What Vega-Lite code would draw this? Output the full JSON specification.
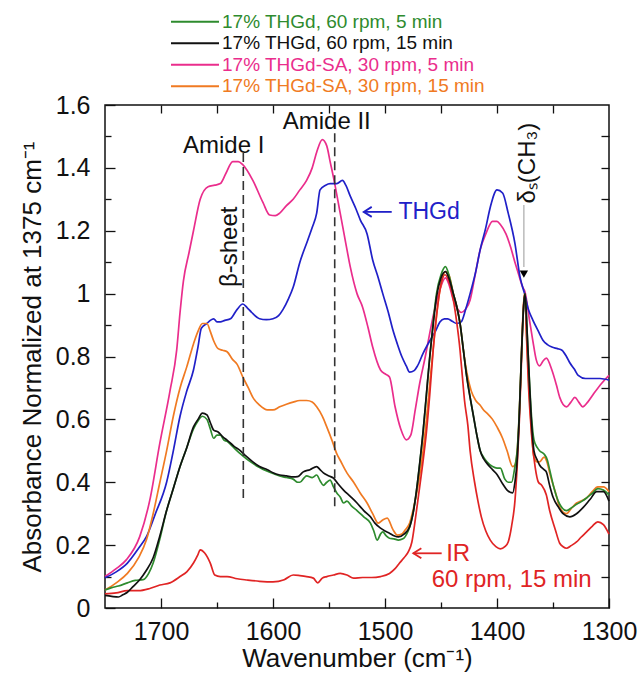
{
"$schema": "https://vega.github.io/schema/vega-lite/v6.json",
"width": 504, "height": 503,
"autosize": {"type": "none"},
"padding": {"left": 105, "top": 105, "right": 29, "bottom": 71},
"background": "white",
"config": {
  "view": {"stroke": "#111", "strokeWidth": 1.5},
  "font": "Liberation Sans",
  "axis": {"grid": false, "domain": false, "ticks": true, "labelFont": "Liberation Sans", "titleFont": "Liberation Sans", "labelColor": "#111", "titleColor": "#111", "tickColor": "#111", "tickWidth": 1.3, "labelFontSize": 25, "titleFontSize": 26, "titleFontWeight": "normal", "labelFlush": false, "labelOverlap": false},
  "text": {"font": "Liberation Sans"}
},
"datasets": {
"spectra": [
{"s":"17% THGd-SA, 30 rpm, 5 min","w":1750,"a":0.10},{"s":"17% THGd-SA, 30 rpm, 5 min","w":1740,"a":0.125},{"s":"17% THGd-SA, 30 rpm, 5 min","w":1731,"a":0.153},{"s":"17% THGd-SA, 30 rpm, 5 min","w":1719,"a":0.227},{"s":"17% THGd-SA, 30 rpm, 5 min","w":1710,"a":0.343},{"s":"17% THGd-SA, 30 rpm, 5 min","w":1701,"a":0.525},{"s":"17% THGd-SA, 30 rpm, 5 min","w":1692,"a":0.69},{"s":"17% THGd-SA, 30 rpm, 5 min","w":1686,"a":0.82},{"s":"17% THGd-SA, 30 rpm, 5 min","w":1683,"a":0.94},{"s":"17% THGd-SA, 30 rpm, 5 min","w":1680,"a":1.04},{"s":"17% THGd-SA, 30 rpm, 5 min","w":1675,"a":1.13},{"s":"17% THGd-SA, 30 rpm, 5 min","w":1671,"a":1.20},{"s":"17% THGd-SA, 30 rpm, 5 min","w":1665,"a":1.30},{"s":"17% THGd-SA, 30 rpm, 5 min","w":1658,"a":1.34},{"s":"17% THGd-SA, 30 rpm, 5 min","w":1652,"a":1.345},{"s":"17% THGd-SA, 30 rpm, 5 min","w":1647,"a":1.35},{"s":"17% THGd-SA, 30 rpm, 5 min","w":1642,"a":1.383},{"s":"17% THGd-SA, 30 rpm, 5 min","w":1636,"a":1.42},{"s":"17% THGd-SA, 30 rpm, 5 min","w":1631,"a":1.42},{"s":"17% THGd-SA, 30 rpm, 5 min","w":1627,"a":1.41},{"s":"17% THGd-SA, 30 rpm, 5 min","w":1618,"a":1.36},{"s":"17% THGd-SA, 30 rpm, 5 min","w":1609,"a":1.29},{"s":"17% THGd-SA, 30 rpm, 5 min","w":1603,"a":1.25},{"s":"17% THGd-SA, 30 rpm, 5 min","w":1598,"a":1.248},{"s":"17% THGd-SA, 30 rpm, 5 min","w":1594,"a":1.256},{"s":"17% THGd-SA, 30 rpm, 5 min","w":1588,"a":1.28},{"s":"17% THGd-SA, 30 rpm, 5 min","w":1582,"a":1.30},{"s":"17% THGd-SA, 30 rpm, 5 min","w":1576,"a":1.33},{"s":"17% THGd-SA, 30 rpm, 5 min","w":1570,"a":1.36},{"s":"17% THGd-SA, 30 rpm, 5 min","w":1565,"a":1.40},{"s":"17% THGd-SA, 30 rpm, 5 min","w":1561,"a":1.45},{"s":"17% THGd-SA, 30 rpm, 5 min","w":1556,"a":1.49},{"s":"17% THGd-SA, 30 rpm, 5 min","w":1552,"a":1.47},{"s":"17% THGd-SA, 30 rpm, 5 min","w":1549,"a":1.42},{"s":"17% THGd-SA, 30 rpm, 5 min","w":1546,"a":1.37},{"s":"17% THGd-SA, 30 rpm, 5 min","w":1540,"a":1.256},{"s":"17% THGd-SA, 30 rpm, 5 min","w":1535,"a":1.16},{"s":"17% THGd-SA, 30 rpm, 5 min","w":1531,"a":1.085},{"s":"17% THGd-SA, 30 rpm, 5 min","w":1525,"a":1.00},{"s":"17% THGd-SA, 30 rpm, 5 min","w":1520,"a":0.957},{"s":"17% THGd-SA, 30 rpm, 5 min","w":1515,"a":0.89},{"s":"17% THGd-SA, 30 rpm, 5 min","w":1511,"a":0.83},{"s":"17% THGd-SA, 30 rpm, 5 min","w":1504,"a":0.757},{"s":"17% THGd-SA, 30 rpm, 5 min","w":1500,"a":0.745},{"s":"17% THGd-SA, 30 rpm, 5 min","w":1496,"a":0.735},{"s":"17% THGd-SA, 30 rpm, 5 min","w":1491,"a":0.64},{"s":"17% THGd-SA, 30 rpm, 5 min","w":1486,"a":0.57},{"s":"17% THGd-SA, 30 rpm, 5 min","w":1481,"a":0.535},{"s":"17% THGd-SA, 30 rpm, 5 min","w":1477,"a":0.55},{"s":"17% THGd-SA, 30 rpm, 5 min","w":1473,"a":0.63},{"s":"17% THGd-SA, 30 rpm, 5 min","w":1469,"a":0.715},{"s":"17% THGd-SA, 30 rpm, 5 min","w":1464,"a":0.80},{"s":"17% THGd-SA, 30 rpm, 5 min","w":1460,"a":0.875},{"s":"17% THGd-SA, 30 rpm, 5 min","w":1456,"a":0.945},{"s":"17% THGd-SA, 30 rpm, 5 min","w":1452,"a":1.0},{"s":"17% THGd-SA, 30 rpm, 5 min","w":1446,"a":1.05},{"s":"17% THGd-SA, 30 rpm, 5 min","w":1443,"a":1.03},{"s":"17% THGd-SA, 30 rpm, 5 min","w":1439,"a":0.98},{"s":"17% THGd-SA, 30 rpm, 5 min","w":1435,"a":0.95},{"s":"17% THGd-SA, 30 rpm, 5 min","w":1432,"a":0.94},{"s":"17% THGd-SA, 30 rpm, 5 min","w":1428,"a":0.95},{"s":"17% THGd-SA, 30 rpm, 5 min","w":1424,"a":0.98},{"s":"17% THGd-SA, 30 rpm, 5 min","w":1420,"a":1.05},{"s":"17% THGd-SA, 30 rpm, 5 min","w":1415,"a":1.14},{"s":"17% THGd-SA, 30 rpm, 5 min","w":1410,"a":1.19},{"s":"17% THGd-SA, 30 rpm, 5 min","w":1404,"a":1.23},{"s":"17% THGd-SA, 30 rpm, 5 min","w":1400,"a":1.23},{"s":"17% THGd-SA, 30 rpm, 5 min","w":1397,"a":1.22},{"s":"17% THGd-SA, 30 rpm, 5 min","w":1392,"a":1.19},{"s":"17% THGd-SA, 30 rpm, 5 min","w":1388,"a":1.15},{"s":"17% THGd-SA, 30 rpm, 5 min","w":1384,"a":1.10},{"s":"17% THGd-SA, 30 rpm, 5 min","w":1381,"a":1.065},{"s":"17% THGd-SA, 30 rpm, 5 min","w":1377,"a":1.02},{"s":"17% THGd-SA, 30 rpm, 5 min","w":1375,"a":1.005},{"s":"17% THGd-SA, 30 rpm, 5 min","w":1371,"a":0.916},{"s":"17% THGd-SA, 30 rpm, 5 min","w":1368,"a":0.85},{"s":"17% THGd-SA, 30 rpm, 5 min","w":1365,"a":0.79},{"s":"17% THGd-SA, 30 rpm, 5 min","w":1362,"a":0.77},{"s":"17% THGd-SA, 30 rpm, 5 min","w":1359,"a":0.785},{"s":"17% THGd-SA, 30 rpm, 5 min","w":1356,"a":0.795},{"s":"17% THGd-SA, 30 rpm, 5 min","w":1351,"a":0.757},{"s":"17% THGd-SA, 30 rpm, 5 min","w":1347,"a":0.71},{"s":"17% THGd-SA, 30 rpm, 5 min","w":1344,"a":0.67},{"s":"17% THGd-SA, 30 rpm, 5 min","w":1338,"a":0.64},{"s":"17% THGd-SA, 30 rpm, 5 min","w":1334,"a":0.655},{"s":"17% THGd-SA, 30 rpm, 5 min","w":1330.5,"a":0.67},{"s":"17% THGd-SA, 30 rpm, 5 min","w":1327,"a":0.655},{"s":"17% THGd-SA, 30 rpm, 5 min","w":1323.5,"a":0.64},{"s":"17% THGd-SA, 30 rpm, 5 min","w":1319,"a":0.655},{"s":"17% THGd-SA, 30 rpm, 5 min","w":1314,"a":0.68},{"s":"17% THGd-SA, 30 rpm, 5 min","w":1306.5,"a":0.715},{"s":"17% THGd-SA, 30 rpm, 5 min","w":1300,"a":0.74},
{"s":"THGd","w":1750,"a":0.096},{"s":"THGd","w":1740,"a":0.115},{"s":"THGd","w":1730,"a":0.143},{"s":"THGd","w":1720,"a":0.19},{"s":"THGd","w":1713,"a":0.227},{"s":"THGd","w":1705,"a":0.30},{"s":"THGd","w":1695,"a":0.40},{"s":"THGd","w":1689,"a":0.50},{"s":"THGd","w":1683,"a":0.61},{"s":"THGd","w":1677,"a":0.69},{"s":"THGd","w":1671,"a":0.757},{"s":"THGd","w":1667,"a":0.83},{"s":"THGd","w":1664,"a":0.89},{"s":"THGd","w":1659,"a":0.905},{"s":"THGd","w":1656,"a":0.915},{"s":"THGd","w":1653,"a":0.92},{"s":"THGd","w":1650,"a":0.91},{"s":"THGd","w":1647,"a":0.91},{"s":"THGd","w":1643,"a":0.915},{"s":"THGd","w":1638,"a":0.92},{"s":"THGd","w":1632,"a":0.95},{"s":"THGd","w":1627,"a":0.967},{"s":"THGd","w":1623,"a":0.955},{"s":"THGd","w":1619,"a":0.94},{"s":"THGd","w":1612,"a":0.92},{"s":"THGd","w":1606,"a":0.917},{"s":"THGd","w":1600,"a":0.92},{"s":"THGd","w":1595,"a":0.93},{"s":"THGd","w":1591,"a":0.95},{"s":"THGd","w":1586,"a":0.985},{"s":"THGd","w":1582,"a":1.02},{"s":"THGd","w":1576,"a":1.10},{"s":"THGd","w":1569,"a":1.17},{"s":"THGd","w":1565,"a":1.21},{"s":"THGd","w":1561,"a":1.256},{"s":"THGd","w":1558,"a":1.33},{"s":"THGd","w":1553,"a":1.345},{"s":"THGd","w":1549,"a":1.35},{"s":"THGd","w":1543,"a":1.35},{"s":"THGd","w":1538,"a":1.36},{"s":"THGd","w":1535,"a":1.345},{"s":"THGd","w":1531,"a":1.31},{"s":"THGd","w":1526,"a":1.27},{"s":"THGd","w":1522,"a":1.234},{"s":"THGd","w":1516,"a":1.19},{"s":"THGd","w":1511,"a":1.107},{"s":"THGd","w":1506,"a":1.05},{"s":"THGd","w":1502,"a":1.00},{"s":"THGd","w":1497,"a":0.94},{"s":"THGd","w":1493,"a":0.885},{"s":"THGd","w":1489,"a":0.84},{"s":"THGd","w":1485,"a":0.80},{"s":"THGd","w":1481,"a":0.77},{"s":"THGd","w":1478,"a":0.75},{"s":"THGd","w":1474,"a":0.755},{"s":"THGd","w":1471,"a":0.77},{"s":"THGd","w":1466,"a":0.81},{"s":"THGd","w":1460,"a":0.85},{"s":"THGd","w":1455,"a":0.88},{"s":"THGd","w":1451,"a":0.91},{"s":"THGd","w":1447,"a":0.92},{"s":"THGd","w":1444,"a":0.92},{"s":"THGd","w":1440,"a":0.912},{"s":"THGd","w":1436,"a":0.905},{"s":"THGd","w":1432,"a":0.91},{"s":"THGd","w":1428,"a":0.95},{"s":"THGd","w":1424,"a":1.0},{"s":"THGd","w":1419,"a":1.07},{"s":"THGd","w":1415,"a":1.14},{"s":"THGd","w":1410,"a":1.21},{"s":"THGd","w":1406,"a":1.275},{"s":"THGd","w":1400,"a":1.33},{"s":"THGd","w":1395,"a":1.32},{"s":"THGd","w":1390,"a":1.256},{"s":"THGd","w":1384,"a":1.16},{"s":"THGd","w":1379.5,"a":1.054},{"s":"THGd","w":1375,"a":0.995},{"s":"THGd","w":1372,"a":0.95},{"s":"THGd","w":1368,"a":0.916},{"s":"THGd","w":1363,"a":0.88},{"s":"THGd","w":1359,"a":0.852},{"s":"THGd","w":1355,"a":0.838},{"s":"THGd","w":1351,"a":0.83},{"s":"THGd","w":1346,"a":0.825},{"s":"THGd","w":1342,"a":0.82},{"s":"THGd","w":1338,"a":0.80},{"s":"THGd","w":1335,"a":0.78},{"s":"THGd","w":1331,"a":0.76},{"s":"THGd","w":1327.5,"a":0.74},{"s":"THGd","w":1321,"a":0.73},{"s":"THGd","w":1314,"a":0.73},{"s":"THGd","w":1308,"a":0.73},{"s":"THGd","w":1300,"a":0.725},
{"s":"17% THGd-SA, 30 rpm, 15 min","w":1750,"a":0.057},{"s":"17% THGd-SA, 30 rpm, 15 min","w":1740,"a":0.08},{"s":"17% THGd-SA, 30 rpm, 15 min","w":1730,"a":0.11},{"s":"17% THGd-SA, 30 rpm, 15 min","w":1720,"a":0.16},{"s":"17% THGd-SA, 30 rpm, 15 min","w":1713,"a":0.217},{"s":"17% THGd-SA, 30 rpm, 15 min","w":1707,"a":0.30},{"s":"17% THGd-SA, 30 rpm, 15 min","w":1701,"a":0.40},{"s":"17% THGd-SA, 30 rpm, 15 min","w":1695,"a":0.50},{"s":"17% THGd-SA, 30 rpm, 15 min","w":1689,"a":0.61},{"s":"17% THGd-SA, 30 rpm, 15 min","w":1683,"a":0.70},{"s":"17% THGd-SA, 30 rpm, 15 min","w":1677,"a":0.767},{"s":"17% THGd-SA, 30 rpm, 15 min","w":1671,"a":0.84},{"s":"17% THGd-SA, 30 rpm, 15 min","w":1667,"a":0.88},{"s":"17% THGd-SA, 30 rpm, 15 min","w":1663,"a":0.905},{"s":"17% THGd-SA, 30 rpm, 15 min","w":1659,"a":0.905},{"s":"17% THGd-SA, 30 rpm, 15 min","w":1656,"a":0.88},{"s":"17% THGd-SA, 30 rpm, 15 min","w":1653,"a":0.85},{"s":"17% THGd-SA, 30 rpm, 15 min","w":1649,"a":0.825},{"s":"17% THGd-SA, 30 rpm, 15 min","w":1645,"a":0.82},{"s":"17% THGd-SA, 30 rpm, 15 min","w":1641,"a":0.815},{"s":"17% THGd-SA, 30 rpm, 15 min","w":1636,"a":0.79},{"s":"17% THGd-SA, 30 rpm, 15 min","w":1632,"a":0.775},{"s":"17% THGd-SA, 30 rpm, 15 min","w":1627,"a":0.735},{"s":"17% THGd-SA, 30 rpm, 15 min","w":1622,"a":0.70},{"s":"17% THGd-SA, 30 rpm, 15 min","w":1618,"a":0.67},{"s":"17% THGd-SA, 30 rpm, 15 min","w":1612,"a":0.645},{"s":"17% THGd-SA, 30 rpm, 15 min","w":1605,"a":0.63},{"s":"17% THGd-SA, 30 rpm, 15 min","w":1600,"a":0.63},{"s":"17% THGd-SA, 30 rpm, 15 min","w":1594,"a":0.64},{"s":"17% THGd-SA, 30 rpm, 15 min","w":1588,"a":0.648},{"s":"17% THGd-SA, 30 rpm, 15 min","w":1582,"a":0.655},{"s":"17% THGd-SA, 30 rpm, 15 min","w":1576,"a":0.66},{"s":"17% THGd-SA, 30 rpm, 15 min","w":1570,"a":0.66},{"s":"17% THGd-SA, 30 rpm, 15 min","w":1565,"a":0.655},{"s":"17% THGd-SA, 30 rpm, 15 min","w":1561,"a":0.64},{"s":"17% THGd-SA, 30 rpm, 15 min","w":1556,"a":0.61},{"s":"17% THGd-SA, 30 rpm, 15 min","w":1552,"a":0.576},{"s":"17% THGd-SA, 30 rpm, 15 min","w":1547,"a":0.53},{"s":"17% THGd-SA, 30 rpm, 15 min","w":1543,"a":0.49},{"s":"17% THGd-SA, 30 rpm, 15 min","w":1540,"a":0.47},{"s":"17% THGd-SA, 30 rpm, 15 min","w":1534,"a":0.43},{"s":"17% THGd-SA, 30 rpm, 15 min","w":1528,"a":0.40},{"s":"17% THGd-SA, 30 rpm, 15 min","w":1522,"a":0.365},{"s":"17% THGd-SA, 30 rpm, 15 min","w":1516,"a":0.334},{"s":"17% THGd-SA, 30 rpm, 15 min","w":1511,"a":0.30},{"s":"17% THGd-SA, 30 rpm, 15 min","w":1506,"a":0.27},{"s":"17% THGd-SA, 30 rpm, 15 min","w":1502,"a":0.28},{"s":"17% THGd-SA, 30 rpm, 15 min","w":1498,"a":0.286},{"s":"17% THGd-SA, 30 rpm, 15 min","w":1493,"a":0.25},{"s":"17% THGd-SA, 30 rpm, 15 min","w":1489,"a":0.232},{"s":"17% THGd-SA, 30 rpm, 15 min","w":1485,"a":0.235},{"s":"17% THGd-SA, 30 rpm, 15 min","w":1482,"a":0.248},{"s":"17% THGd-SA, 30 rpm, 15 min","w":1478,"a":0.27},{"s":"17% THGd-SA, 30 rpm, 15 min","w":1475,"a":0.31},{"s":"17% THGd-SA, 30 rpm, 15 min","w":1470,"a":0.40},{"s":"17% THGd-SA, 30 rpm, 15 min","w":1466,"a":0.50},{"s":"17% THGd-SA, 30 rpm, 15 min","w":1463,"a":0.60},{"s":"17% THGd-SA, 30 rpm, 15 min","w":1460,"a":0.715},{"s":"17% THGd-SA, 30 rpm, 15 min","w":1456,"a":0.86},{"s":"17% THGd-SA, 30 rpm, 15 min","w":1453,"a":0.96},{"s":"17% THGd-SA, 30 rpm, 15 min","w":1450,"a":1.03},{"s":"17% THGd-SA, 30 rpm, 15 min","w":1446,"a":1.07},{"s":"17% THGd-SA, 30 rpm, 15 min","w":1443,"a":1.06},{"s":"17% THGd-SA, 30 rpm, 15 min","w":1439,"a":1.0},{"s":"17% THGd-SA, 30 rpm, 15 min","w":1436,"a":0.96},{"s":"17% THGd-SA, 30 rpm, 15 min","w":1433,"a":0.905},{"s":"17% THGd-SA, 30 rpm, 15 min","w":1430,"a":0.82},{"s":"17% THGd-SA, 30 rpm, 15 min","w":1427,"a":0.75},{"s":"17% THGd-SA, 30 rpm, 15 min","w":1423,"a":0.69},{"s":"17% THGd-SA, 30 rpm, 15 min","w":1419,"a":0.66},{"s":"17% THGd-SA, 30 rpm, 15 min","w":1415,"a":0.645},{"s":"17% THGd-SA, 30 rpm, 15 min","w":1412,"a":0.63},{"s":"17% THGd-SA, 30 rpm, 15 min","w":1409,"a":0.62},{"s":"17% THGd-SA, 30 rpm, 15 min","w":1404,"a":0.60},{"s":"17% THGd-SA, 30 rpm, 15 min","w":1400,"a":0.576},{"s":"17% THGd-SA, 30 rpm, 15 min","w":1395,"a":0.54},{"s":"17% THGd-SA, 30 rpm, 15 min","w":1391,"a":0.50},{"s":"17% THGd-SA, 30 rpm, 15 min","w":1386,"a":0.45},{"s":"17% THGd-SA, 30 rpm, 15 min","w":1384,"a":0.455},{"s":"17% THGd-SA, 30 rpm, 15 min","w":1381,"a":0.55},{"s":"17% THGd-SA, 30 rpm, 15 min","w":1379,"a":0.72},{"s":"17% THGd-SA, 30 rpm, 15 min","w":1377,"a":0.92},{"s":"17% THGd-SA, 30 rpm, 15 min","w":1375.5,"a":1.0},{"s":"17% THGd-SA, 30 rpm, 15 min","w":1373,"a":0.82},{"s":"17% THGd-SA, 30 rpm, 15 min","w":1370,"a":0.61},{"s":"17% THGd-SA, 30 rpm, 15 min","w":1367,"a":0.48},{"s":"17% THGd-SA, 30 rpm, 15 min","w":1364,"a":0.465},{"s":"17% THGd-SA, 30 rpm, 15 min","w":1362,"a":0.465},{"s":"17% THGd-SA, 30 rpm, 15 min","w":1358,"a":0.48},{"s":"17% THGd-SA, 30 rpm, 15 min","w":1355,"a":0.46},{"s":"17% THGd-SA, 30 rpm, 15 min","w":1353,"a":0.43},{"s":"17% THGd-SA, 30 rpm, 15 min","w":1348,"a":0.37},{"s":"17% THGd-SA, 30 rpm, 15 min","w":1344,"a":0.32},{"s":"17% THGd-SA, 30 rpm, 15 min","w":1338,"a":0.30},{"s":"17% THGd-SA, 30 rpm, 15 min","w":1334,"a":0.315},{"s":"17% THGd-SA, 30 rpm, 15 min","w":1329,"a":0.334},{"s":"17% THGd-SA, 30 rpm, 15 min","w":1325,"a":0.34},{"s":"17% THGd-SA, 30 rpm, 15 min","w":1320,"a":0.35},{"s":"17% THGd-SA, 30 rpm, 15 min","w":1315,"a":0.37},{"s":"17% THGd-SA, 30 rpm, 15 min","w":1310,"a":0.385},{"s":"17% THGd-SA, 30 rpm, 15 min","w":1305,"a":0.385},{"s":"17% THGd-SA, 30 rpm, 15 min","w":1300,"a":0.37},
{"s":"IR, 60 rpm, 15 min","w":1750,"a":0.045},{"s":"IR, 60 rpm, 15 min","w":1740,"a":0.048},{"s":"IR, 60 rpm, 15 min","w":1730,"a":0.055},{"s":"IR, 60 rpm, 15 min","w":1720,"a":0.055},{"s":"IR, 60 rpm, 15 min","w":1710,"a":0.062},{"s":"IR, 60 rpm, 15 min","w":1701,"a":0.073},{"s":"IR, 60 rpm, 15 min","w":1692,"a":0.08},{"s":"IR, 60 rpm, 15 min","w":1683,"a":0.10},{"s":"IR, 60 rpm, 15 min","w":1677,"a":0.115},{"s":"IR, 60 rpm, 15 min","w":1671,"a":0.143},{"s":"IR, 60 rpm, 15 min","w":1667,"a":0.17},{"s":"IR, 60 rpm, 15 min","w":1665,"a":0.185},{"s":"IR, 60 rpm, 15 min","w":1661,"a":0.175},{"s":"IR, 60 rpm, 15 min","w":1656,"a":0.143},{"s":"IR, 60 rpm, 15 min","w":1652,"a":0.105},{"s":"IR, 60 rpm, 15 min","w":1647,"a":0.10},{"s":"IR, 60 rpm, 15 min","w":1641,"a":0.10},{"s":"IR, 60 rpm, 15 min","w":1632,"a":0.093},{"s":"IR, 60 rpm, 15 min","w":1623,"a":0.089},{"s":"IR, 60 rpm, 15 min","w":1612,"a":0.085},{"s":"IR, 60 rpm, 15 min","w":1600,"a":0.083},{"s":"IR, 60 rpm, 15 min","w":1590,"a":0.09},{"s":"IR, 60 rpm, 15 min","w":1582,"a":0.105},{"s":"IR, 60 rpm, 15 min","w":1576,"a":0.103},{"s":"IR, 60 rpm, 15 min","w":1570,"a":0.10},{"s":"IR, 60 rpm, 15 min","w":1564,"a":0.095},{"s":"IR, 60 rpm, 15 min","w":1560,"a":0.08},{"s":"IR, 60 rpm, 15 min","w":1556,"a":0.095},{"s":"IR, 60 rpm, 15 min","w":1552,"a":0.10},{"s":"IR, 60 rpm, 15 min","w":1546,"a":0.105},{"s":"IR, 60 rpm, 15 min","w":1540,"a":0.11},{"s":"IR, 60 rpm, 15 min","w":1534,"a":0.105},{"s":"IR, 60 rpm, 15 min","w":1528,"a":0.095},{"s":"IR, 60 rpm, 15 min","w":1520,"a":0.097},{"s":"IR, 60 rpm, 15 min","w":1512,"a":0.097},{"s":"IR, 60 rpm, 15 min","w":1504,"a":0.10},{"s":"IR, 60 rpm, 15 min","w":1496,"a":0.11},{"s":"IR, 60 rpm, 15 min","w":1491,"a":0.125},{"s":"IR, 60 rpm, 15 min","w":1487,"a":0.143},{"s":"IR, 60 rpm, 15 min","w":1483,"a":0.16},{"s":"IR, 60 rpm, 15 min","w":1479,"a":0.18},{"s":"IR, 60 rpm, 15 min","w":1476,"a":0.21},{"s":"IR, 60 rpm, 15 min","w":1473,"a":0.28},{"s":"IR, 60 rpm, 15 min","w":1470,"a":0.36},{"s":"IR, 60 rpm, 15 min","w":1467,"a":0.44},{"s":"IR, 60 rpm, 15 min","w":1463,"a":0.56},{"s":"IR, 60 rpm, 15 min","w":1460,"a":0.68},{"s":"IR, 60 rpm, 15 min","w":1457,"a":0.82},{"s":"IR, 60 rpm, 15 min","w":1454,"a":0.93},{"s":"IR, 60 rpm, 15 min","w":1450,"a":1.03},{"s":"IR, 60 rpm, 15 min","w":1446.5,"a":1.06},{"s":"IR, 60 rpm, 15 min","w":1443,"a":1.04},{"s":"IR, 60 rpm, 15 min","w":1439,"a":0.98},{"s":"IR, 60 rpm, 15 min","w":1436,"a":0.91},{"s":"IR, 60 rpm, 15 min","w":1433,"a":0.82},{"s":"IR, 60 rpm, 15 min","w":1431,"a":0.74},{"s":"IR, 60 rpm, 15 min","w":1429,"a":0.66},{"s":"IR, 60 rpm, 15 min","w":1426,"a":0.58},{"s":"IR, 60 rpm, 15 min","w":1424,"a":0.50},{"s":"IR, 60 rpm, 15 min","w":1420,"a":0.40},{"s":"IR, 60 rpm, 15 min","w":1417,"a":0.34},{"s":"IR, 60 rpm, 15 min","w":1414,"a":0.29},{"s":"IR, 60 rpm, 15 min","w":1410,"a":0.245},{"s":"IR, 60 rpm, 15 min","w":1406,"a":0.216},{"s":"IR, 60 rpm, 15 min","w":1401,"a":0.195},{"s":"IR, 60 rpm, 15 min","w":1397,"a":0.188},{"s":"IR, 60 rpm, 15 min","w":1393,"a":0.195},{"s":"IR, 60 rpm, 15 min","w":1390,"a":0.21},{"s":"IR, 60 rpm, 15 min","w":1387,"a":0.26},{"s":"IR, 60 rpm, 15 min","w":1384,"a":0.34},{"s":"IR, 60 rpm, 15 min","w":1382,"a":0.45},{"s":"IR, 60 rpm, 15 min","w":1380,"a":0.60},{"s":"IR, 60 rpm, 15 min","w":1378,"a":0.80},{"s":"IR, 60 rpm, 15 min","w":1376.5,"a":0.95},{"s":"IR, 60 rpm, 15 min","w":1375,"a":1.0},{"s":"IR, 60 rpm, 15 min","w":1373.5,"a":0.85},{"s":"IR, 60 rpm, 15 min","w":1372,"a":0.715},{"s":"IR, 60 rpm, 15 min","w":1370.5,"a":0.62},{"s":"IR, 60 rpm, 15 min","w":1369,"a":0.545},{"s":"IR, 60 rpm, 15 min","w":1366,"a":0.45},{"s":"IR, 60 rpm, 15 min","w":1363,"a":0.40},{"s":"IR, 60 rpm, 15 min","w":1360,"a":0.39},{"s":"IR, 60 rpm, 15 min","w":1356,"a":0.36},{"s":"IR, 60 rpm, 15 min","w":1353,"a":0.31},{"s":"IR, 60 rpm, 15 min","w":1348,"a":0.25},{"s":"IR, 60 rpm, 15 min","w":1344,"a":0.206},{"s":"IR, 60 rpm, 15 min","w":1341,"a":0.195},{"s":"IR, 60 rpm, 15 min","w":1338,"a":0.19},{"s":"IR, 60 rpm, 15 min","w":1334,"a":0.198},{"s":"IR, 60 rpm, 15 min","w":1329,"a":0.21},{"s":"IR, 60 rpm, 15 min","w":1325,"a":0.225},{"s":"IR, 60 rpm, 15 min","w":1320,"a":0.242},{"s":"IR, 60 rpm, 15 min","w":1315,"a":0.26},{"s":"IR, 60 rpm, 15 min","w":1310,"a":0.274},{"s":"IR, 60 rpm, 15 min","w":1305,"a":0.265},{"s":"IR, 60 rpm, 15 min","w":1300,"a":0.235},
{"s":"17% THGd, 60 rpm, 5 min","w":1750,"a":0.057},{"s":"17% THGd, 60 rpm, 5 min","w":1744,"a":0.065},{"s":"17% THGd, 60 rpm, 5 min","w":1738,"a":0.07},{"s":"17% THGd, 60 rpm, 5 min","w":1730,"a":0.08},{"s":"17% THGd, 60 rpm, 5 min","w":1723,"a":0.088},{"s":"17% THGd, 60 rpm, 5 min","w":1716,"a":0.09},{"s":"17% THGd, 60 rpm, 5 min","w":1711,"a":0.11},{"s":"17% THGd, 60 rpm, 5 min","w":1707,"a":0.143},{"s":"17% THGd, 60 rpm, 5 min","w":1701,"a":0.22},{"s":"17% THGd, 60 rpm, 5 min","w":1695,"a":0.31},{"s":"17% THGd, 60 rpm, 5 min","w":1689,"a":0.38},{"s":"17% THGd, 60 rpm, 5 min","w":1683,"a":0.45},{"s":"17% THGd, 60 rpm, 5 min","w":1677,"a":0.51},{"s":"17% THGd, 60 rpm, 5 min","w":1671,"a":0.57},{"s":"17% THGd, 60 rpm, 5 min","w":1667,"a":0.595},{"s":"17% THGd, 60 rpm, 5 min","w":1663,"a":0.61},{"s":"17% THGd, 60 rpm, 5 min","w":1659,"a":0.60},{"s":"17% THGd, 60 rpm, 5 min","w":1656,"a":0.57},{"s":"17% THGd, 60 rpm, 5 min","w":1653,"a":0.54},{"s":"17% THGd, 60 rpm, 5 min","w":1650,"a":0.55},{"s":"17% THGd, 60 rpm, 5 min","w":1647,"a":0.55},{"s":"17% THGd, 60 rpm, 5 min","w":1644,"a":0.535},{"s":"17% THGd, 60 rpm, 5 min","w":1641,"a":0.53},{"s":"17% THGd, 60 rpm, 5 min","w":1635,"a":0.51},{"s":"17% THGd, 60 rpm, 5 min","w":1629,"a":0.49},{"s":"17% THGd, 60 rpm, 5 min","w":1624,"a":0.475},{"s":"17% THGd, 60 rpm, 5 min","w":1618,"a":0.46},{"s":"17% THGd, 60 rpm, 5 min","w":1612,"a":0.447},{"s":"17% THGd, 60 rpm, 5 min","w":1605,"a":0.435},{"s":"17% THGd, 60 rpm, 5 min","w":1600,"a":0.428},{"s":"17% THGd, 60 rpm, 5 min","w":1594,"a":0.42},{"s":"17% THGd, 60 rpm, 5 min","w":1588,"a":0.415},{"s":"17% THGd, 60 rpm, 5 min","w":1582,"a":0.41},{"s":"17% THGd, 60 rpm, 5 min","w":1578,"a":0.40},{"s":"17% THGd, 60 rpm, 5 min","w":1576,"a":0.40},{"s":"17% THGd, 60 rpm, 5 min","w":1572,"a":0.415},{"s":"17% THGd, 60 rpm, 5 min","w":1570,"a":0.42},{"s":"17% THGd, 60 rpm, 5 min","w":1565,"a":0.415},{"s":"17% THGd, 60 rpm, 5 min","w":1561,"a":0.423},{"s":"17% THGd, 60 rpm, 5 min","w":1558,"a":0.405},{"s":"17% THGd, 60 rpm, 5 min","w":1555,"a":0.39},{"s":"17% THGd, 60 rpm, 5 min","w":1552,"a":0.40},{"s":"17% THGd, 60 rpm, 5 min","w":1549,"a":0.407},{"s":"17% THGd, 60 rpm, 5 min","w":1546,"a":0.385},{"s":"17% THGd, 60 rpm, 5 min","w":1543,"a":0.366},{"s":"17% THGd, 60 rpm, 5 min","w":1540,"a":0.353},{"s":"17% THGd, 60 rpm, 5 min","w":1537,"a":0.334},{"s":"17% THGd, 60 rpm, 5 min","w":1534,"a":0.34},{"s":"17% THGd, 60 rpm, 5 min","w":1530,"a":0.325},{"s":"17% THGd, 60 rpm, 5 min","w":1525,"a":0.31},{"s":"17% THGd, 60 rpm, 5 min","w":1519,"a":0.29},{"s":"17% THGd, 60 rpm, 5 min","w":1513,"a":0.27},{"s":"17% THGd, 60 rpm, 5 min","w":1510,"a":0.245},{"s":"17% THGd, 60 rpm, 5 min","w":1507,"a":0.216},{"s":"17% THGd, 60 rpm, 5 min","w":1504,"a":0.235},{"s":"17% THGd, 60 rpm, 5 min","w":1502,"a":0.242},{"s":"17% THGd, 60 rpm, 5 min","w":1499,"a":0.23},{"s":"17% THGd, 60 rpm, 5 min","w":1496,"a":0.222},{"s":"17% THGd, 60 rpm, 5 min","w":1492,"a":0.22},{"s":"17% THGd, 60 rpm, 5 min","w":1488,"a":0.216},{"s":"17% THGd, 60 rpm, 5 min","w":1484,"a":0.22},{"s":"17% THGd, 60 rpm, 5 min","w":1480,"a":0.24},{"s":"17% THGd, 60 rpm, 5 min","w":1478,"a":0.258},{"s":"17% THGd, 60 rpm, 5 min","w":1475,"a":0.30},{"s":"17% THGd, 60 rpm, 5 min","w":1472,"a":0.37},{"s":"17% THGd, 60 rpm, 5 min","w":1469,"a":0.46},{"s":"17% THGd, 60 rpm, 5 min","w":1466,"a":0.56},{"s":"17% THGd, 60 rpm, 5 min","w":1463,"a":0.68},{"s":"17% THGd, 60 rpm, 5 min","w":1460,"a":0.80},{"s":"17% THGd, 60 rpm, 5 min","w":1457,"a":0.91},{"s":"17% THGd, 60 rpm, 5 min","w":1454,"a":1.0},{"s":"17% THGd, 60 rpm, 5 min","w":1450,"a":1.06},{"s":"17% THGd, 60 rpm, 5 min","w":1446,"a":1.086},{"s":"17% THGd, 60 rpm, 5 min","w":1443,"a":1.06},{"s":"17% THGd, 60 rpm, 5 min","w":1439,"a":1.0},{"s":"17% THGd, 60 rpm, 5 min","w":1436,"a":0.96},{"s":"17% THGd, 60 rpm, 5 min","w":1433,"a":0.905},{"s":"17% THGd, 60 rpm, 5 min","w":1430,"a":0.82},{"s":"17% THGd, 60 rpm, 5 min","w":1427,"a":0.735},{"s":"17% THGd, 60 rpm, 5 min","w":1424,"a":0.67},{"s":"17% THGd, 60 rpm, 5 min","w":1421,"a":0.61},{"s":"17% THGd, 60 rpm, 5 min","w":1418,"a":0.55},{"s":"17% THGd, 60 rpm, 5 min","w":1415,"a":0.50},{"s":"17% THGd, 60 rpm, 5 min","w":1412,"a":0.48},{"s":"17% THGd, 60 rpm, 5 min","w":1409,"a":0.465},{"s":"17% THGd, 60 rpm, 5 min","w":1404,"a":0.45},{"s":"17% THGd, 60 rpm, 5 min","w":1400,"a":0.445},{"s":"17% THGd, 60 rpm, 5 min","w":1397,"a":0.445},{"s":"17% THGd, 60 rpm, 5 min","w":1393,"a":0.41},{"s":"17% THGd, 60 rpm, 5 min","w":1390,"a":0.40},{"s":"17% THGd, 60 rpm, 5 min","w":1387,"a":0.40},{"s":"17% THGd, 60 rpm, 5 min","w":1384,"a":0.45},{"s":"17% THGd, 60 rpm, 5 min","w":1382,"a":0.50},{"s":"17% THGd, 60 rpm, 5 min","w":1380,"a":0.63},{"s":"17% THGd, 60 rpm, 5 min","w":1378,"a":0.82},{"s":"17% THGd, 60 rpm, 5 min","w":1376,"a":0.97},{"s":"17% THGd, 60 rpm, 5 min","w":1375,"a":1.0},{"s":"17% THGd, 60 rpm, 5 min","w":1373,"a":0.87},{"s":"17% THGd, 60 rpm, 5 min","w":1371,"a":0.72},{"s":"17% THGd, 60 rpm, 5 min","w":1369,"a":0.60},{"s":"17% THGd, 60 rpm, 5 min","w":1367,"a":0.535},{"s":"17% THGd, 60 rpm, 5 min","w":1364,"a":0.51},{"s":"17% THGd, 60 rpm, 5 min","w":1362,"a":0.50},{"s":"17% THGd, 60 rpm, 5 min","w":1358,"a":0.49},{"s":"17% THGd, 60 rpm, 5 min","w":1355,"a":0.47},{"s":"17% THGd, 60 rpm, 5 min","w":1353,"a":0.44},{"s":"17% THGd, 60 rpm, 5 min","w":1349,"a":0.38},{"s":"17% THGd, 60 rpm, 5 min","w":1344,"a":0.33},{"s":"17% THGd, 60 rpm, 5 min","w":1338,"a":0.31},{"s":"17% THGd, 60 rpm, 5 min","w":1333,"a":0.32},{"s":"17% THGd, 60 rpm, 5 min","w":1329,"a":0.33},{"s":"17% THGd, 60 rpm, 5 min","w":1324,"a":0.34},{"s":"17% THGd, 60 rpm, 5 min","w":1320,"a":0.35},{"s":"17% THGd, 60 rpm, 5 min","w":1315,"a":0.365},{"s":"17% THGd, 60 rpm, 5 min","w":1310,"a":0.38},{"s":"17% THGd, 60 rpm, 5 min","w":1305,"a":0.375},{"s":"17% THGd, 60 rpm, 5 min","w":1300,"a":0.36},
{"s":"17% THGd, 60 rpm, 15 min","w":1750,"a":0.04},{"s":"17% THGd, 60 rpm, 15 min","w":1744,"a":0.037},{"s":"17% THGd, 60 rpm, 15 min","w":1738,"a":0.035},{"s":"17% THGd, 60 rpm, 15 min","w":1734,"a":0.042},{"s":"17% THGd, 60 rpm, 15 min","w":1730,"a":0.05},{"s":"17% THGd, 60 rpm, 15 min","w":1725,"a":0.068},{"s":"17% THGd, 60 rpm, 15 min","w":1719,"a":0.09},{"s":"17% THGd, 60 rpm, 15 min","w":1713,"a":0.12},{"s":"17% THGd, 60 rpm, 15 min","w":1707,"a":0.16},{"s":"17% THGd, 60 rpm, 15 min","w":1701,"a":0.23},{"s":"17% THGd, 60 rpm, 15 min","w":1695,"a":0.31},{"s":"17% THGd, 60 rpm, 15 min","w":1689,"a":0.38},{"s":"17% THGd, 60 rpm, 15 min","w":1683,"a":0.45},{"s":"17% THGd, 60 rpm, 15 min","w":1677,"a":0.51},{"s":"17% THGd, 60 rpm, 15 min","w":1671,"a":0.576},{"s":"17% THGd, 60 rpm, 15 min","w":1667,"a":0.60},{"s":"17% THGd, 60 rpm, 15 min","w":1663,"a":0.62},{"s":"17% THGd, 60 rpm, 15 min","w":1659,"a":0.614},{"s":"17% THGd, 60 rpm, 15 min","w":1656,"a":0.59},{"s":"17% THGd, 60 rpm, 15 min","w":1653,"a":0.566},{"s":"17% THGd, 60 rpm, 15 min","w":1649,"a":0.56},{"s":"17% THGd, 60 rpm, 15 min","w":1645,"a":0.545},{"s":"17% THGd, 60 rpm, 15 min","w":1641,"a":0.534},{"s":"17% THGd, 60 rpm, 15 min","w":1635,"a":0.515},{"s":"17% THGd, 60 rpm, 15 min","w":1629,"a":0.50},{"s":"17% THGd, 60 rpm, 15 min","w":1624,"a":0.483},{"s":"17% THGd, 60 rpm, 15 min","w":1618,"a":0.465},{"s":"17% THGd, 60 rpm, 15 min","w":1612,"a":0.45},{"s":"17% THGd, 60 rpm, 15 min","w":1605,"a":0.44},{"s":"17% THGd, 60 rpm, 15 min","w":1600,"a":0.43},{"s":"17% THGd, 60 rpm, 15 min","w":1594,"a":0.423},{"s":"17% THGd, 60 rpm, 15 min","w":1588,"a":0.42},{"s":"17% THGd, 60 rpm, 15 min","w":1582,"a":0.417},{"s":"17% THGd, 60 rpm, 15 min","w":1578,"a":0.418},{"s":"17% THGd, 60 rpm, 15 min","w":1573,"a":0.433},{"s":"17% THGd, 60 rpm, 15 min","w":1567,"a":0.44},{"s":"17% THGd, 60 rpm, 15 min","w":1561,"a":0.45},{"s":"17% THGd, 60 rpm, 15 min","w":1558,"a":0.44},{"s":"17% THGd, 60 rpm, 15 min","w":1555,"a":0.43},{"s":"17% THGd, 60 rpm, 15 min","w":1550,"a":0.42},{"s":"17% THGd, 60 rpm, 15 min","w":1546,"a":0.413},{"s":"17% THGd, 60 rpm, 15 min","w":1542,"a":0.395},{"s":"17% THGd, 60 rpm, 15 min","w":1537,"a":0.375},{"s":"17% THGd, 60 rpm, 15 min","w":1531,"a":0.355},{"s":"17% THGd, 60 rpm, 15 min","w":1525,"a":0.334},{"s":"17% THGd, 60 rpm, 15 min","w":1519,"a":0.31},{"s":"17% THGd, 60 rpm, 15 min","w":1513,"a":0.29},{"s":"17% THGd, 60 rpm, 15 min","w":1509,"a":0.27},{"s":"17% THGd, 60 rpm, 15 min","w":1504,"a":0.254},{"s":"17% THGd, 60 rpm, 15 min","w":1500,"a":0.245},{"s":"17% THGd, 60 rpm, 15 min","w":1496,"a":0.238},{"s":"17% THGd, 60 rpm, 15 min","w":1492,"a":0.23},{"s":"17% THGd, 60 rpm, 15 min","w":1488,"a":0.226},{"s":"17% THGd, 60 rpm, 15 min","w":1483,"a":0.235},{"s":"17% THGd, 60 rpm, 15 min","w":1478,"a":0.258},{"s":"17% THGd, 60 rpm, 15 min","w":1475,"a":0.30},{"s":"17% THGd, 60 rpm, 15 min","w":1472,"a":0.37},{"s":"17% THGd, 60 rpm, 15 min","w":1469,"a":0.46},{"s":"17% THGd, 60 rpm, 15 min","w":1466,"a":0.56},{"s":"17% THGd, 60 rpm, 15 min","w":1463,"a":0.68},{"s":"17% THGd, 60 rpm, 15 min","w":1460,"a":0.80},{"s":"17% THGd, 60 rpm, 15 min","w":1457,"a":0.90},{"s":"17% THGd, 60 rpm, 15 min","w":1454,"a":0.99},{"s":"17% THGd, 60 rpm, 15 min","w":1450,"a":1.05},{"s":"17% THGd, 60 rpm, 15 min","w":1446,"a":1.07},{"s":"17% THGd, 60 rpm, 15 min","w":1443,"a":1.05},{"s":"17% THGd, 60 rpm, 15 min","w":1439,"a":1.0},{"s":"17% THGd, 60 rpm, 15 min","w":1436,"a":0.96},{"s":"17% THGd, 60 rpm, 15 min","w":1433,"a":0.905},{"s":"17% THGd, 60 rpm, 15 min","w":1430,"a":0.82},{"s":"17% THGd, 60 rpm, 15 min","w":1427,"a":0.735},{"s":"17% THGd, 60 rpm, 15 min","w":1424,"a":0.67},{"s":"17% THGd, 60 rpm, 15 min","w":1421,"a":0.61},{"s":"17% THGd, 60 rpm, 15 min","w":1418,"a":0.55},{"s":"17% THGd, 60 rpm, 15 min","w":1415,"a":0.50},{"s":"17% THGd, 60 rpm, 15 min","w":1412,"a":0.475},{"s":"17% THGd, 60 rpm, 15 min","w":1409,"a":0.46},{"s":"17% THGd, 60 rpm, 15 min","w":1404,"a":0.44},{"s":"17% THGd, 60 rpm, 15 min","w":1400,"a":0.425},{"s":"17% THGd, 60 rpm, 15 min","w":1395,"a":0.395},{"s":"17% THGd, 60 rpm, 15 min","w":1391,"a":0.375},{"s":"17% THGd, 60 rpm, 15 min","w":1386,"a":0.366},{"s":"17% THGd, 60 rpm, 15 min","w":1384,"a":0.40},{"s":"17% THGd, 60 rpm, 15 min","w":1382,"a":0.47},{"s":"17% THGd, 60 rpm, 15 min","w":1380,"a":0.62},{"s":"17% THGd, 60 rpm, 15 min","w":1378,"a":0.82},{"s":"17% THGd, 60 rpm, 15 min","w":1376,"a":0.97},{"s":"17% THGd, 60 rpm, 15 min","w":1375,"a":1.0},{"s":"17% THGd, 60 rpm, 15 min","w":1373,"a":0.87},{"s":"17% THGd, 60 rpm, 15 min","w":1371,"a":0.715},{"s":"17% THGd, 60 rpm, 15 min","w":1369,"a":0.58},{"s":"17% THGd, 60 rpm, 15 min","w":1367,"a":0.50},{"s":"17% THGd, 60 rpm, 15 min","w":1364,"a":0.47},{"s":"17% THGd, 60 rpm, 15 min","w":1362,"a":0.455},{"s":"17% THGd, 60 rpm, 15 min","w":1358,"a":0.44},{"s":"17% THGd, 60 rpm, 15 min","w":1356,"a":0.433},{"s":"17% THGd, 60 rpm, 15 min","w":1353,"a":0.39},{"s":"17% THGd, 60 rpm, 15 min","w":1350,"a":0.353},{"s":"17% THGd, 60 rpm, 15 min","w":1345,"a":0.32},{"s":"17% THGd, 60 rpm, 15 min","w":1341,"a":0.30},{"s":"17% THGd, 60 rpm, 15 min","w":1335,"a":0.29},{"s":"17% THGd, 60 rpm, 15 min","w":1329,"a":0.30},{"s":"17% THGd, 60 rpm, 15 min","w":1323,"a":0.32},{"s":"17% THGd, 60 rpm, 15 min","w":1317,"a":0.345},{"s":"17% THGd, 60 rpm, 15 min","w":1311,"a":0.37},{"s":"17% THGd, 60 rpm, 15 min","w":1305,"a":0.37},{"s":"17% THGd, 60 rpm, 15 min","w":1300,"a":0.34}
],
"dashes": [{"w": 1626.5, "top": 1.447, "bottom": 0.334}, {"w": 1544.9, "top": 1.51, "bottom": 0.322}],
"blackText": [{"w": 1644, "a": 1.471, "t": "Amide I"}, {"w": 1552, "a": 1.547, "t": "Amide II"}],
"rotText": [{"w": 1638.4, "a": 1.149, "t": "β-sheet"}, {"w": 1372, "a": 1.415, "t": "δₛ(CH₃)"}],
"blueArrow": [{"w": 1519, "w2": 1494, "a": 1.26}],
"blueText": [{"w": 1488, "a": 1.26, "t": "THGd"}],
"redArrow": [{"w": 1474.7, "w2": 1449.4, "a": 0.174}],
"redLeft": [{"w": 1445.4, "a": 0.172, "t": "IR"}],
"redCenter": [{"w": 1386.9, "a": 0.089, "t": "60 rpm, 15 min"}],
"deltaArrow": [{"w": 1376, "top": 1.282, "bottom": 1.085, "head": 1.062}]
},
"layer": [
{
  "data": {"name": "spectra"},
  "mark": {"type": "line", "strokeWidth": 1.7, "interpolate": "monotone"},
  "encoding": {
    "x": {"field": "w", "type": "quantitative",
      "scale": {"domain": [1300, 1750], "reverse": true, "nice": false, "zero": false},
      "axis": {"orient": "bottom", "values": [1300,1400,1500,1600,1700], "format": "d",
        "offset": -10, "tickSize": 10,
        "labelPadding": 11, "title": "Wavenumber (cm⁻¹)", "titlePadding": 1}},
    "y": {"field": "a", "type": "quantitative",
      "scale": {"domain": [0, 1.6], "nice": false, "zero": false},
      "axis": {"orient": "left", "values": [0,0.2,0.4,0.6,0.8,1,1.2,1.4,1.6], "format": ".1~f",
        "offset": -10, "tickSize": 10,
        "labelPadding": 15, "title": "Absorbance Normalized at 1375 cm⁻¹", "titlePadding": 10}},
    "color": {"field": "s", "type": "nominal",
      "scale": {"domain": ["17% THGd, 60 rpm, 5 min", "17% THGd, 60 rpm, 15 min", "17% THGd-SA, 30 rpm, 5 min", "17% THGd-SA, 30 rpm, 15 min", "THGd", "IR, 60 rpm, 15 min"],
                "range": ["#2e8b2e", "#111111", "#ea2d8c", "#f07a22", "#2020c8", "#e02424"]},
      "legend": {"orient": "none", "legendX": 80.5, "legendY": -92.8, "title": null, "padding": 0,
        "values": ["17% THGd, 60 rpm, 5 min", "17% THGd, 60 rpm, 15 min", "17% THGd-SA, 30 rpm, 5 min", "17% THGd-SA, 30 rpm, 15 min"],
        "symbolType": "M-12,0H12", "symbolSize": 16, "symbolStrokeWidth": 2,
        "labelFontSize": 19, "labelFont": "Liberation Sans", "labelOffset": 17.5, "labelLimit": 500, "rowPadding": 1.5,
        "encode": {"labels": {"update": {"fill": {"scale": "color", "field": "value"}}}}}}
  }
},
{
  "data": {"name": "dashes"},
  "mark": {"type": "rule", "strokeDash": [9, 5], "color": "#333", "strokeWidth": 1.6},
  "encoding": {
    "x": {"field": "w", "type": "quantitative",
      "axis": {"orient": "top", "values": [1350,1400,1450,1500,1550,1600,1650,1700], "labels": false, "title": null,
        "offset": -8, "tickSize": 8}},
    "y": {"field": "top", "type": "quantitative",
      "axis": {"orient": "right", "values": [0.1,0.2,0.3,0.4,0.5,0.6,0.7,0.8,0.9,1,1.1,1.2,1.3,1.4,1.5], "labels": false, "title": null,
        "offset": -8, "tickSize": 8}},
    "y2": {"field": "bottom"}
  }
},
{
  "data": {"name": "blackText"},
  "mark": {"type": "text", "fontSize": 24, "align": "center", "baseline": "middle", "color": "#111"},
  "encoding": {
    "x": {"field": "w", "type": "quantitative",
      "axis": {"orient": "bottom", "values": [1350,1450,1550,1650], "labels": false, "title": null, "offset": -6, "tickSize": 6}},
    "y": {"field": "a", "type": "quantitative",
      "axis": {"orient": "left", "values": [0.1,0.3,0.5,0.7,0.9,1.1,1.3,1.5], "labels": false, "title": null, "offset": -6, "tickSize": 6}},
    "text": {"field": "t"}}
},
{
  "data": {"name": "rotText"},
  "mark": {"type": "text", "fontSize": 24, "align": "center", "baseline": "middle", "angle": 270, "color": "#111"},
  "encoding": {"x": {"field": "w", "type": "quantitative", "axis": null}, "y": {"field": "a", "type": "quantitative", "axis": null}, "text": {"field": "t"}}
},
{
  "data": {"name": "blueArrow"},
  "mark": {"type": "rule", "color": "#2020c8", "strokeWidth": 1.8},
  "encoding": {"x": {"field": "w", "type": "quantitative", "axis": null}, "x2": {"field": "w2"}, "y": {"field": "a", "type": "quantitative", "axis": null}}
},
{
  "data": {"name": "blueArrow"},
  "mark": {"type": "point", "shape": "M1.6,-1L0,0L1.6,1", "size": 100, "filled": false, "color": "#2020c8", "strokeWidth": 1.8, "opacity": 1},
  "encoding": {"x": {"field": "w", "type": "quantitative", "axis": null}, "y": {"field": "a", "type": "quantitative", "axis": null}}
},
{
  "data": {"name": "blueText"},
  "mark": {"type": "text", "fontSize": 23, "align": "left", "baseline": "middle", "color": "#2020c8"},
  "encoding": {"x": {"field": "w", "type": "quantitative", "axis": null}, "y": {"field": "a", "type": "quantitative", "axis": null}, "text": {"field": "t"}}
},
{
  "data": {"name": "redArrow"},
  "mark": {"type": "rule", "color": "#e02424", "strokeWidth": 1.8},
  "encoding": {"x": {"field": "w", "type": "quantitative", "axis": null}, "x2": {"field": "w2"}, "y": {"field": "a", "type": "quantitative", "axis": null}}
},
{
  "data": {"name": "redArrow"},
  "mark": {"type": "point", "shape": "M1.6,-1L0,0L1.6,1", "size": 100, "filled": false, "color": "#e02424", "strokeWidth": 1.8, "opacity": 1},
  "encoding": {"x": {"field": "w", "type": "quantitative", "axis": null}, "y": {"field": "a", "type": "quantitative", "axis": null}}
},
{
  "data": {"name": "redLeft"},
  "mark": {"type": "text", "fontSize": 24, "align": "left", "baseline": "middle", "color": "#e02424"},
  "encoding": {"x": {"field": "w", "type": "quantitative", "axis": null}, "y": {"field": "a", "type": "quantitative", "axis": null}, "text": {"field": "t"}}
},
{
  "data": {"name": "redCenter"},
  "mark": {"type": "text", "fontSize": 24, "align": "center", "baseline": "middle", "color": "#e02424"},
  "encoding": {"x": {"field": "w", "type": "quantitative", "axis": null}, "y": {"field": "a", "type": "quantitative", "axis": null}, "text": {"field": "t"}}
},
{
  "data": {"name": "deltaArrow"},
  "mark": {"type": "rule", "color": "#aaaaaa", "strokeWidth": 1.2},
  "encoding": {"x": {"field": "w", "type": "quantitative", "axis": null}, "y": {"field": "top", "type": "quantitative", "axis": null}, "y2": {"field": "bottom"}}
},
{
  "data": {"name": "deltaArrow"},
  "mark": {"type": "point", "shape": "triangle-down", "size": 70, "filled": true, "color": "#000", "opacity": 1},
  "encoding": {"x": {"field": "w", "type": "quantitative", "axis": null}, "y": {"field": "head", "type": "quantitative", "axis": null}}
}
],
"resolve": {"axis": {"x": "independent", "y": "independent"}}
}
